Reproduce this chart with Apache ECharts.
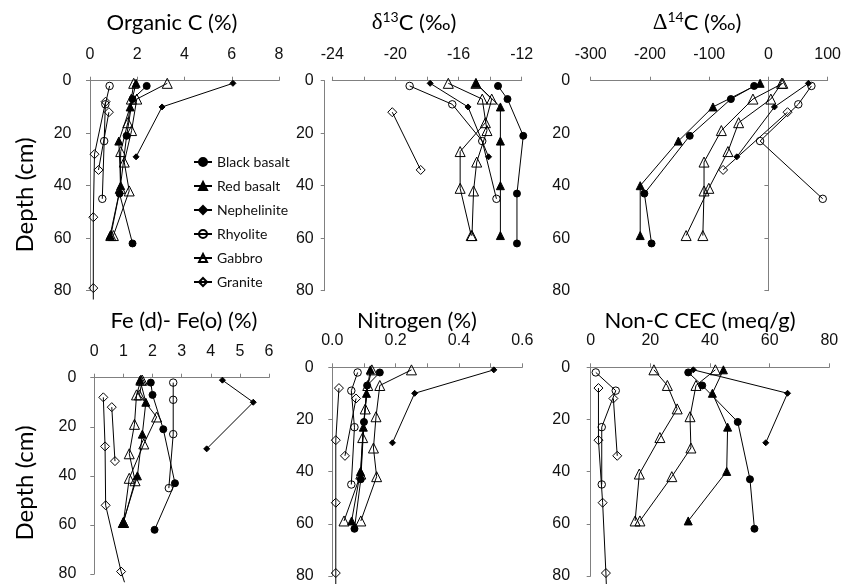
<!DOCTYPE html>
<html>
<head>
<meta charset="utf-8">
<script src="https://cdn.jsdelivr.net/npm/echarts@6/dist/echarts.min.js"></script>
<style>
  html, body { margin: 0; padding: 0; background: #fff; }
  #chart { width: 844px; height: 584px; }
</style>
</head>
<body>
<div id="chart"></div>
<script>
// profiles: black basalt, red basalt, nephelinite, rhyolite, gabbro A, gabbro B, granite A, granite B
const profileNames = ['Black basalt', 'Red basalt', 'Nephelinite', 'Rhyolite', 'Gabbro', 'Gabbro', 'Granite', 'Granite'];
const legendNames = ['Black basalt', 'Red basalt', 'Nephelinite', 'Rhyolite', 'Gabbro', 'Granite'];

const depthBlackBasalt = [2, 7, 21, 43, 62];
const depthRedBasalt = [1, 10, 23, 40, 59];
const depthNephelinite = [1, 10, 29];
const depthRhyolite = [2, 9, 23, 45];
const depthGabbroA = [1, 7, 19, 31, 42, 59];
const depthGabbroB = [1, 7, 16, 27, 41, 59];
const depthGraniteA = [8, 28, 52, 79, 95];
const depthGraniteB = [12, 34];
const depths = [depthBlackBasalt, depthRedBasalt, depthNephelinite, depthRhyolite,
  depthGabbroA, depthGabbroB, depthGraniteA, depthGraniteB];

// values in the same profile order as above
const organicC = [
  [2.4, 1.8, 1.55, 1.25, 1.8],
  [1.95, 1.7, 1.22, 1.3, 0.85],
  [6.05, 3.05, 1.95],
  [0.83, 0.65, 0.6, 0.52],
  [3.27, 1.98, 1.76, 1.45, 1.66, 0.99],
  [1.85, 1.75, 1.6, 1.3, 1.28, 0.88],
  [0.66, 0.19, 0.14, 0.14, 0.14],
  [0.8, 0.36]
];
const delta13C = [
  [-13.5, -12.9, -11.9, -12.3, -12.3],
  [-14.9, -13.35, -13.35, -13.35, -13.35],
  [-17.8, -15.4, -14.1],
  [-19.1, -16.4, -14.5, -13.6],
  [-16.65, -14.5, -14.2, -14.85, -15.05, -15.15],
  [-14.9, -13.9, -14.3, -15.9, -15.9, -15.2],
  [],
  [-20.2, -18.4]
];
const delta14C = [
  [-26, -65, -134, -210, -198],
  [-16, -95, -153, -217, -217],
  [65, 8, -55],
  [70, 48, -16, 89],
  [22, -28, -81, -110, -110, -112],
  [20, 2, -52, -70, -102, -140],
  [],
  [30, -78]
];
const feDminusFeO = [
  [1.94, 2.0, 2.37, 2.77, 2.07],
  [1.57, 1.77, 1.65, 1.48, 0.99],
  [4.4, 5.46, 3.86],
  [2.71, 2.71, 2.71, 2.56],
  [1.6, 1.45, 1.38, 1.2, 1.4, 1.0],
  [1.65, 1.55, 2.14, 1.7, 1.2, 1.0],
  [0.31, 0.37, 0.39, 0.92, 1.35],
  [0.6, 0.71]
];
const nitrogen = [
  [0.15, 0.11, 0.1, 0.09, 0.07],
  [0.12, 0.108, 0.098, 0.089, 0.061],
  [0.51, 0.26, 0.19],
  [0.08, 0.06, 0.07, 0.06],
  [0.25, 0.15, 0.138, 0.13, 0.14, 0.09],
  [0.125, 0.112, 0.104, 0.096, 0.09, 0.037],
  [0.021, 0.011, 0.011, 0.011, 0.011],
  [0.075, 0.04]
];
const nonCCEC = [
  [32.7, 37.4, 49.3, 53.4, 54.9],
  [44.5, 40.8, 45.9, 45.6, 32.7],
  [34.4, 66, 58.7],
  [1.7, 8.4, 3.7, 3.7],
  [41.8, 35.3, 33.3, 33.6, 27.2, 16.5],
  [21.2, 25.7, 29, 23.2, 16.3, 14.9],
  [2.6, 2.6, 4, 5.1, 5.6],
  [7.6, 8.9]
];

// marker look per profile
const OPEN = 'rgba(255,255,255,0)';
const markers = [
  { symbol: 'circle', size: 7, fill: '#000' },
  { symbol: 'triangle', size: 8, fill: '#000' },
  { symbol: 'diamond', size: 6, fill: '#000' },
  { symbol: 'circle', size: 7.5, fill: OPEN },
  { symbol: 'triangle', size: 10, fill: OPEN },
  { symbol: 'triangle', size: 10, fill: OPEN },
  { symbol: 'diamond', size: 9, fill: OPEN },
  { symbol: 'diamond', size: 9, fill: OPEN }
];

// panel frames in pixels (x0/x1 = first/last tick, y0/y1 = depth 0/80)
const panels = [
  { values: organicC, x0: 90, x1: 279, y0: 80.7, y1: 290.7, min: 0, max: 8, interval: 2 },
  { values: delta13C, x0: 332.3, x1: 521.7, y0: 80.7, y1: 290.7, min: -24, max: -12, interval: 2, labelEvery: 4 },
  { values: delta14C, x0: 590.7, x1: 829.3, y0: 80.7, y1: 290.7, min: -300, max: 100, interval: 100 },
  { values: feDminusFeO, x0: 94.3, x1: 269, y0: 377.7, y1: 574, min: 0, max: 6, interval: 1 },
  { values: nitrogen, x0: 332.3, x1: 522.3, y0: 367.3, y1: 576.7, min: 0, max: 0.6, interval: 0.1, labelEvery: 0.2, digits: 1 },
  { values: nonCCEC, x0: 590.7, x1: 829.3, y0: 367.3, y1: 578, min: 0, max: 80, interval: 20 }
];

const AXIS_GRAY = '#808080';
const labelFont = { fontFamily: 'Liberation Sans', fontSize: 16, color: '#111' };

const grids = [], xAxes = [], yAxes = [], series = [];

panels.forEach((p, i) => {
  const padX = 0.04 * (p.x1 - p.x0);
  const padY = 0.04 * (p.y1 - p.y0);
  const span = p.max - p.min;
  const axisIdx = 2 * i, dataIdx = 2 * i + 1;

  // grid that only carries the visible axes (R style: line from first to last tick)
  grids.push({ left: p.x0, top: p.y0, width: p.x1 - p.x0, height: p.y1 - p.y0 });
  // grid for the data, widened by 4% each side like R
  grids.push({ left: p.x0 - padX, top: p.y0 - padY, width: (p.x1 - p.x0) + 2 * padX, height: (p.y1 - p.y0) + 2 * padY });

  xAxes.push({
    gridIndex: axisIdx, type: 'value', position: 'top', offset: padY,
    min: p.min, max: p.max, interval: p.interval,
    axisLine: { show: true, lineStyle: { color: AXIS_GRAY, width: 1 } },
    axisTick: { show: true, inside: false, length: 4, lineStyle: { color: AXIS_GRAY } },
    splitLine: { show: false },
    axisLabel: Object.assign({
      margin: 10, showMinLabel: true, showMaxLabel: true,
      formatter: v => {
        if (p.labelEvery) {
          const k = Math.round(v / p.labelEvery * 1000) / 1000;
          if (Math.abs(k - Math.round(k)) > 1e-6) return '';
        }
        return p.digits ? v.toFixed(p.digits) : String(Math.round(v));
      }
    }, labelFont)
  });
  xAxes.push({ gridIndex: dataIdx, type: 'value', show: false, min: p.min - 0.04 * span, max: p.max + 0.04 * span });

  yAxes.push({
    gridIndex: axisIdx, type: 'value', position: 'left', offset: padX, inverse: true,
    min: 0, max: 80, interval: 20,
    axisLine: { show: true, lineStyle: { color: AXIS_GRAY, width: 1 } },
    axisTick: { show: true, inside: false, length: 4, lineStyle: { color: AXIS_GRAY } },
    splitLine: { show: false },
    axisLabel: Object.assign({ margin: 11, showMinLabel: true, showMaxLabel: true }, labelFont)
  });
  yAxes.push({ gridIndex: dataIdx, type: 'value', show: false, inverse: true, min: -3.2, max: 83.2 });

  p.values.forEach((vals, k) => {
    if (!vals.length) return;
    const m = markers[k];
    series.push({
      type: 'line',
      name: profileNames[k],
      xAxisIndex: dataIdx, yAxisIndex: dataIdx,
      data: vals.map((v, j) => [v, depths[k][j]]),
      symbol: m.symbol, symbolSize: m.size, showSymbol: true,
      itemStyle: { color: m.fill, borderColor: '#000', borderWidth: 1 },
      lineStyle: { color: '#000', width: 1 },
      clip: true, silent: true
    });
  });
});

const titleStyle = {
  fontFamily: 'Lato', fontSize: 22, fontWeight: 'normal', color: '#000', lineHeight: 26,
  rich: {
    g: { fontFamily: 'Liberation Serif', fontSize: 23, color: '#000', lineHeight: 26 },
    s: { fontFamily: 'Lato', fontSize: 14, color: '#000', lineHeight: 15, verticalAlign: 'top' },
    t: { fontFamily: 'Lato', fontSize: 22, color: '#000', lineHeight: 26 }
  }
};
const mkTitle = (text, x, y) => ({ text, left: x, top: y - 13, textAlign: 'center', padding: 0, textStyle: titleStyle });

const chart = echarts.init(document.getElementById('chart'));
chart.setOption({
  animation: false,
  backgroundColor: '#fff',
  title: [
    mkTitle('Organic C (%)', 172, 23),
    mkTitle('{g|δ}{s|13}{t|C (‰)}', 414, 23),
    mkTitle('{g|Δ}{s|14}{t|C (‰)}', 697, 23),
    mkTitle('Fe (d)- Fe(o) (%)', 184, 321),
    mkTitle('Nitrogen (%)', 417, 321),
    mkTitle('Non-C CEC (meq/g)', 700, 321)
  ],
  graphic: [
    { type: 'text', x: 25, y: 195, rotation: Math.PI / 2,
      style: { text: 'Depth (cm)', font: '24px Lato', fill: '#000', align: 'center', verticalAlign: 'middle' } },
    { type: 'text', x: 25, y: 483, rotation: Math.PI / 2,
      style: { text: 'Depth (cm)', font: '24px Lato', fill: '#000', align: 'center', verticalAlign: 'middle' } }
  ],
  legend: {
    data: legendNames,
    orient: 'vertical',
    left: 188, top: 150,
    itemWidth: 18, itemHeight: 10, itemGap: 10,
    selectedMode: false,
    textStyle: { fontFamily: 'Lato', fontSize: 14, color: '#111' }
  },
  grid: grids,
  xAxis: xAxes,
  yAxis: yAxes,
  series: series
});
</script>
</body>
</html>
